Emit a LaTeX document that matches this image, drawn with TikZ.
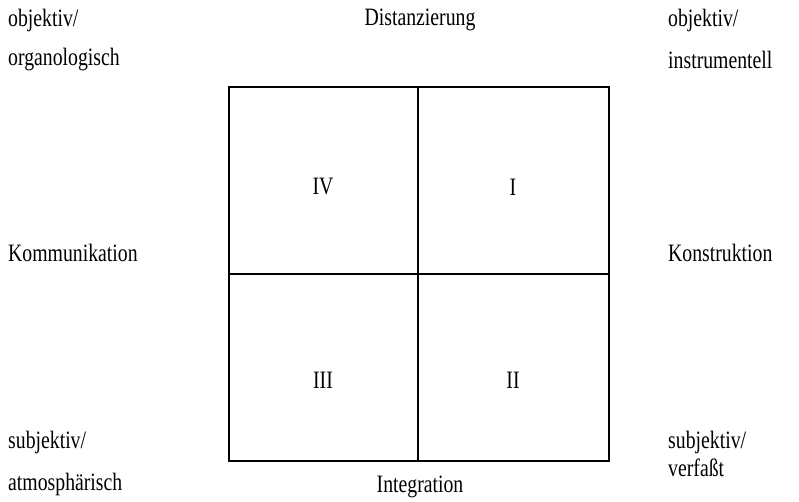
\documentclass[tikz,border=0pt]{standalone}
\usepackage{fontspec}
\usepackage{graphicx}
\setmainfont{Liberation Serif}
% narrow setting of the labels
\newcommand{\narrowtxt}[1]{\scalebox{0.79}[1]{#1}}
\begin{document}
\begin{tikzpicture}[x=1pt,y=-1pt,
  lbl/.style={inner sep=0pt,font=\fontsize{25}{29}\selectfont},
  grid line/.style={draw=black,line width=2pt}]
\useasboundingbox (0,0) rectangle (799,502);
% corners and centre of the square
\coordinate (nw) at (229,87);
\coordinate (se) at (609,461);
\coordinate (c) at (418,274);
\draw[grid line] (nw) rectangle (se);
\draw[grid line] (nw -| c) -- (se -| c);
\draw[grid line] (nw |- c) -- (se |- c);
% quadrant numbers
\node[lbl] (q4) at (323,187) {\narrowtxt{IV}};
\node[lbl] (q1) at (513,187) {\narrowtxt{I}};
\node[lbl] (q3) at (323,380) {\narrowtxt{III}};
\node[lbl] (q2) at (513,380) {\narrowtxt{II}};
% corner labels
\node[lbl,anchor=west] (tl1) at (8,20) {\narrowtxt{objektiv/}};
\node[lbl,anchor=west] (tl2) at (8,60) {\narrowtxt{organologisch}};
\node[lbl,anchor=west] (tr1) at (668,20) {\narrowtxt{objektiv/}};
\node[lbl,anchor=west] (tr2) at (668,60) {\narrowtxt{instrumentell}};
\node[lbl,anchor=west] (bl1) at (8,442) {\narrowtxt{subjektiv/}};
\node[lbl,anchor=west] (bl2) at (8,484) {\narrowtxt{atmosphärisch}};
\node[lbl,anchor=west] (br1) at (668,442) {\narrowtxt{subjektiv/}};
\node[lbl,anchor=west] (br2) at (668,468) {\narrowtxt{verfaßt}};
% axis labels
\node[lbl] (top) at (420,20) {\narrowtxt{Distanzierung}};
\node[lbl] (bot) at (420,487) {\narrowtxt{Integration}};
\node[lbl,anchor=west] (left) at (8,253) {\narrowtxt{Kommunikation}};
\node[lbl,anchor=west] (right) at (668,253) {\narrowtxt{Konstruktion}};
\end{tikzpicture}
\end{document}
